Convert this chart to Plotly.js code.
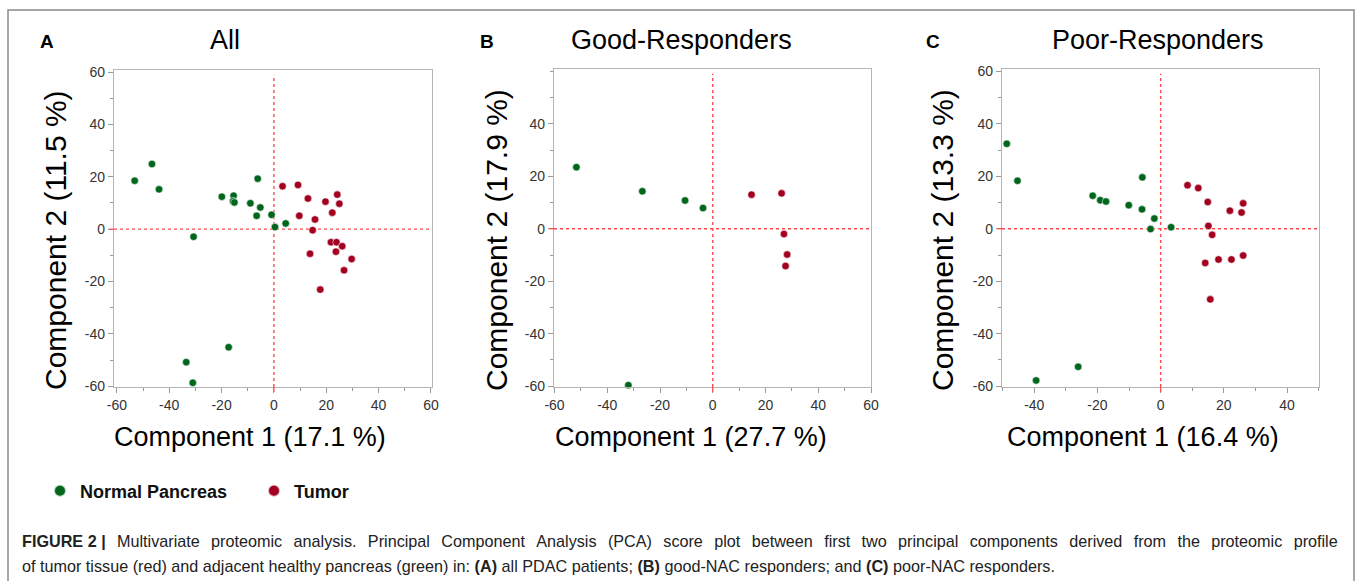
<!DOCTYPE html>
<html>
<head>
<meta charset="utf-8">
<script src="https://cdn.plot.ly/plotly-3.0.1.min.js"></script>
<style>html,body{margin:0;padding:0;background:#fff;}#chart{width:1357px;height:581px;}</style>
</head>
<body>
<div id="chart"></div>
<script>
// ---------- data ----------
const groupNames = ["Normal Pancreas", "Tumor"];

// Panel A: All
const allNormalX = [-53.2, -46.6, -43.9, -30.7, -19.9, -15.4, -15.6, -15.1, -9.0, -6.2, -5.2, -6.6, -0.9, 0.4, 4.5, -17.3, -33.5, -31.0];
const allNormalY = [18.5, 24.9, 15.2, -2.9, 12.4, 12.8, 10.7, 10.2, 9.9, 19.3, 8.3, 5.1, 5.5, 0.8, 2.2, -45.1, -50.8, -58.7];
const allTumorX = [3.3, 9.2, 13.0, 9.7, 15.7, 14.8, 19.7, 22.3, 24.2, 25.0, 21.8, 23.9, 23.7, 26.1, 29.7, 26.8, 13.8, 17.7];
const allTumorY = [16.4, 16.9, 11.7, 5.1, 3.7, -0.4, 10.5, 6.3, 13.2, 9.7, -5.0, -5.0, -8.6, -6.5, -11.4, -15.7, -9.4, -23.1];

// Panel B: Good-Responders
const goodNormalX = [-51.7, -26.7, -10.5, -3.7, -32.0];
const goodNormalY = [23.5, 14.3, 10.8, 7.9, -59.6];
const goodTumorX = [14.7, 26.1, 27.0, 28.2, 27.6];
const goodTumorY = [13.0, 13.5, -2.0, -9.8, -14.2];

// Panel C: Poor-Responders
const poorNormalX = [-48.7, -45.3, -39.4, -26.1, -21.5, -19.1, -17.3, -10.1, -5.8, -5.9, -2.0, -3.2, 3.3];
const poorNormalY = [32.4, 18.3, -57.8, -52.6, 12.6, 10.9, 10.4, 9.0, 19.6, 7.4, 3.9, -0.1, 0.6];
const poorTumorX = [8.5, 11.9, 14.9, 15.1, 16.3, 21.9, 25.6, 26.1, 14.1, 18.3, 22.4, 26.1, 15.7];
const poorTumorY = [16.6, 15.5, 10.2, 1.1, -2.3, 6.9, 6.2, 9.7, -13.0, -11.7, -11.7, -10.2, -26.9];

// titles and tick labels
const panelLetters = ["A", "B", "C"];
const panelTitles = ["All", "Good-Responders", "Poor-Responders"];
const xTitles = ["Component 1 (17.1 %)", "Component 1 (27.7 %)", "Component 1 (16.4 %)"];
const yTitles = ["Component 2 (11.5 %)", "Component 2 (17.9 %)", "Component 2 (13.3 %)"];
const xTickValsAB = [-60, -40, -20, 0, 20, 40, 60];
const xTickTextAB = ["-60", "-40", "-20", "0", "20", "40", "60"];
const xTickValsC = [-40, -20, 0, 20, 40];
const xTickTextC = ["-40", "-20", "0", "20", "40"];
const yTickValsAC = [-60, -40, -20, 0, 20, 40, 60];
const yTickTextAC = ["-60", "-40", "-20", "0", "20", "40", "60"];
const yTickValsB = [-60, -40, -20, 0, 20, 40];
const yTickTextB = ["-60", "-40", "-20", "0", "20", "40"];
const captionLabel = "FIGURE 2 |";
const captionLine1 = "Multivariate proteomic analysis. Principal Component Analysis (PCA) score plot between first two principal components derived from the proteomic profile";
const captionLine2 = "of tumor tissue (red) and adjacent healthy pancreas (green) in: <b>(A)</b> all PDAC patients; <b>(B)</b> good-NAC responders; and <b>(C)</b> poor-NAC responders.";

// ---------- layout helpers ----------
const W = 1357, H = 581;
const fx = px => px / W;
const fy = py => 1 - py / H;
const FONT = "Liberation Sans, Arial, sans-serif";
const GREEN = "#00661c";
const RED = "#a3001f";

function markerOf(c) {
  return {color: c, size: 7.5, line: {color: "rgba(255,255,255,0.7)", width: 0.8}};
}

const traces = [];
const sets = [
  [allNormalX, allNormalY, allTumorX, allTumorY, "x", "y"],
  [goodNormalX, goodNormalY, goodTumorX, goodTumorY, "x2", "y2"],
  [poorNormalX, poorNormalY, poorTumorX, poorTumorY, "x3", "y3"]
];
sets.forEach((s, i) => {
  traces.push({type: "scatter", mode: "markers", x: s[0], y: s[1], xaxis: s[4], yaxis: s[5],
    name: groupNames[0], legendgroup: "n", showlegend: i === 0, marker: markerOf(GREEN), cliponaxis: false});
  traces.push({type: "scatter", mode: "markers", x: s[2], y: s[3], xaxis: s[4], yaxis: s[5],
    name: groupNames[1], legendgroup: "t", showlegend: i === 0, marker: markerOf(RED), cliponaxis: false});
});

function axis(dom, range, tv, tt, anchor) {
  return {domain: dom, range: range, anchor: anchor, tickmode: "array", tickvals: tv, ticktext: tt,
    showline: true, mirror: true, linecolor: "#b5b5b5", linewidth: 1.2,
    ticks: "outside", ticklen: 5, tickcolor: "#9a9a9a", tickwidth: 1,
    minor: {tickmode: "linear", tick0: 0, dtick: 10, ticks: "outside", ticklen: 3, tickcolor: "#9a9a9a"},
    showgrid: false, zeroline: false, tickfont: {family: FONT, size: 14, color: "#333"}, fixedrange: true};
}

const layout = {
  width: W, height: H, margin: {l: 0, r: 0, t: 0, b: 0},
  paper_bgcolor: "#fff", plot_bgcolor: "#fff",
  font: {family: FONT, color: "#000"},
  xaxis: axis([fx(114), fx(432)], [-61.1, 60.4], xTickValsAB, xTickTextAB, "y"),
  yaxis: axis([fy(387), fy(70)], [-60.3, 60.8], yTickValsAC, yTickTextAC, "x"),
  xaxis2: axis([fx(554), fx(871)], [-60.2, 60], xTickValsAB, xTickTextAB, "y2"),
  yaxis2: axis([fy(387), fy(69)], [-60.3, 60.9], yTickValsB, yTickTextB, "x2"),
  xaxis3: axis([fx(1002), fx(1319)], [-50.2, 50.1], xTickValsC, xTickTextC, "y3"),
  yaxis3: axis([fy(387), fy(69)], [-60.3, 60.9], yTickValsAC, yTickTextAC, "x3"),
  showlegend: true,
  legend: {orientation: "h", x: fx(40), y: fy(491), xanchor: "left", yanchor: "middle",
    font: {family: FONT, size: 18, color: "#111", weight: "bold"}, itemwidth: 30, entrywidth: 169,
    bgcolor: "rgba(0,0,0,0)", itemsizing: "constant"},
  shapes: [],
  annotations: []
};

// outer frame
layout.shapes.push({type: "rect", xref: "paper", yref: "paper", x0: fx(8), x1: fx(1354), y0: fy(620), y1: fy(10),
  line: {color: "#8a8a8a", width: 1.5}, fillcolor: "rgba(0,0,0,0)", layer: "below"});

const axisIds = [["x", "y"], ["x2", "y2"], ["x3", "y3"]];
axisIds.forEach(([xa, ya]) => {
  layout.shapes.push({type: "line", xref: xa, yref: ya + " domain", x0: 0, x1: 0, y0: 0, y1: 0.985,
    line: {color: "#ff4a4a", width: 1.4, dash: "dot"}, layer: "below"});
  layout.shapes.push({type: "line", xref: xa + " domain", yref: ya, x0: 0, x1: 1, y0: 0, y1: 0,
    line: {color: "#ff4a4a", width: 1.4, dash: "dot"}, layer: "below"});
  layout.shapes.push({type: "line", xref: xa, yref: ya + " domain", x0: 0, x1: 0, y0: 0, y1: -0.016,
    line: {color: "#ff4a4a", width: 1.2}});
  layout.shapes.push({type: "line", xref: xa + " domain", yref: ya, x0: 0, x1: -0.016, y0: 0, y1: 0,
    line: {color: "#ff4a4a", width: 1.2}});
});

// panel letters and titles
const letterX = [47, 487, 933];
const titleX = [225, 681, 1158];
for (let i = 0; i < 3; i++) {
  layout.annotations.push({xref: "paper", yref: "paper", x: fx(letterX[i]), y: fy(41), xanchor: "center", yanchor: "middle",
    text: "<b>" + panelLetters[i] + "</b>", showarrow: false, font: {family: FONT, size: 19, color: "#000"}});
  layout.annotations.push({xref: "paper", yref: "paper", x: fx(titleX[i]), y: fy(40), xanchor: "center", yanchor: "middle",
    text: panelTitles[i], showarrow: false, font: {family: FONT, size: 27, color: "#000"}});
}
// axis titles
const xTitleX = [250, 691, 1143];
const yTitleX = [56, 497, 943];
for (let i = 0; i < 3; i++) {
  layout.annotations.push({xref: "paper", yref: "paper", x: fx(xTitleX[i]), y: fy(437), xanchor: "center", yanchor: "middle",
    text: xTitles[i], showarrow: false, font: {family: FONT, size: 27, color: "#000"}});
  layout.annotations.push({xref: "paper", yref: "paper", x: fx(yTitleX[i]), y: fy(240), xanchor: "center", yanchor: "middle",
    text: yTitles[i], textangle: -90, showarrow: false, font: {family: FONT, size: 30, color: "#000"}});
}
// caption (first line justified to the full width, as in the reference)
const justified1 = "<b>" + captionLabel + "</b>\u2002\u2009" + captionLine1.split(" ").join("\u2002\u2009");
layout.annotations.push({xref: "paper", yref: "paper", x: fx(20), y: fy(541), xanchor: "left", yanchor: "middle",
  text: justified1, showarrow: false, font: {family: FONT, size: 16.2, color: "#222"}});
layout.annotations.push({xref: "paper", yref: "paper", x: fx(20), y: fy(566), xanchor: "left", yanchor: "middle",
  text: captionLine2, showarrow: false, font: {family: FONT, size: 16.2, color: "#222"}});

Plotly.newPlot("chart", traces, layout, {displayModeBar: false, staticPlot: true});
</script>
</body>
</html>
